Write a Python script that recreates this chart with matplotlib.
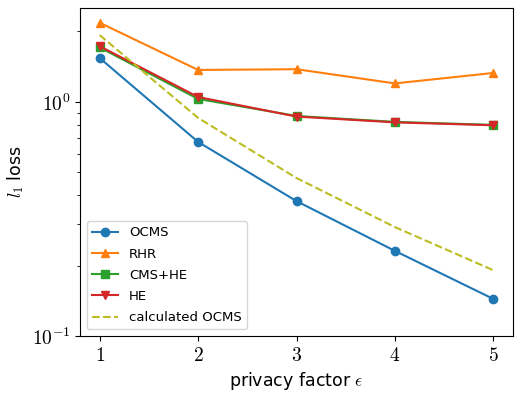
import math
import matplotlib
matplotlib.use("Agg")
import matplotlib.pyplot as plt
from matplotlib.ticker import FixedLocator, FuncFormatter, LogLocator, NullFormatter

plt.rcParams['mathtext.fontset'] = 'cm'
plt.rcParams['font.family'] = 'DejaVu Sans'

eps = [1, 2, 3, 4, 5]
ocms = [1.54, 0.675, 0.377, 0.231, 0.144]
rhr = [2.18, 1.37, 1.38, 1.20, 1.33]
cms_he = [1.71, 1.03, 0.871, 0.822, 0.798]
he = [1.73, 1.05, 0.866, 0.818, 0.795]
calc_ocms = [1.93, 0.855, 0.473, 0.292, 0.191]

fig = plt.figure(figsize=(5.31, 3.99), dpi=100)
ax = fig.add_axes([80/531, 1-336/399, (513-80)/531, (336-8)/399])

ax.plot(eps, ocms, marker='o', color='#1f77b4', label='OCMS')
ax.plot(eps, rhr, marker='^', color='#ff7f0e', label='RHR')
ax.plot(eps, cms_he, marker='s', color='#2ca02c', label='CMS+HE')
ax.plot(eps, he, marker='v', color='#d62728', label='HE')
ax.plot(eps, calc_ocms, linestyle='--', color='#bcbd22', label='calculated OCMS')

ax.set_yscale('log')
ax.set_ylim(0.1, 2.52)
ax.set_xlim(0.8, 5.2)
ax.xaxis.set_major_locator(FixedLocator(eps))
ax.xaxis.set_major_formatter(FuncFormatter(lambda v, p: r'$%d$' % v))
ax.yaxis.set_major_locator(LogLocator(base=10))
ax.yaxis.set_major_formatter(FuncFormatter(lambda v, p: r'$10^{%d}$' % round(math.log10(v))))
ax.yaxis.set_minor_formatter(NullFormatter())
ax.tick_params(axis='both', which='major', labelsize=14)

ax.set_xlabel(r'privacy factor $\epsilon$', fontsize=12.5)
ax.set_ylabel(r'$l_1$ loss', fontsize=12.5)
ax.legend(loc='lower left', fontsize=9.5, labelspacing=0.62)

fig.savefig('out.png', dpi=100)
